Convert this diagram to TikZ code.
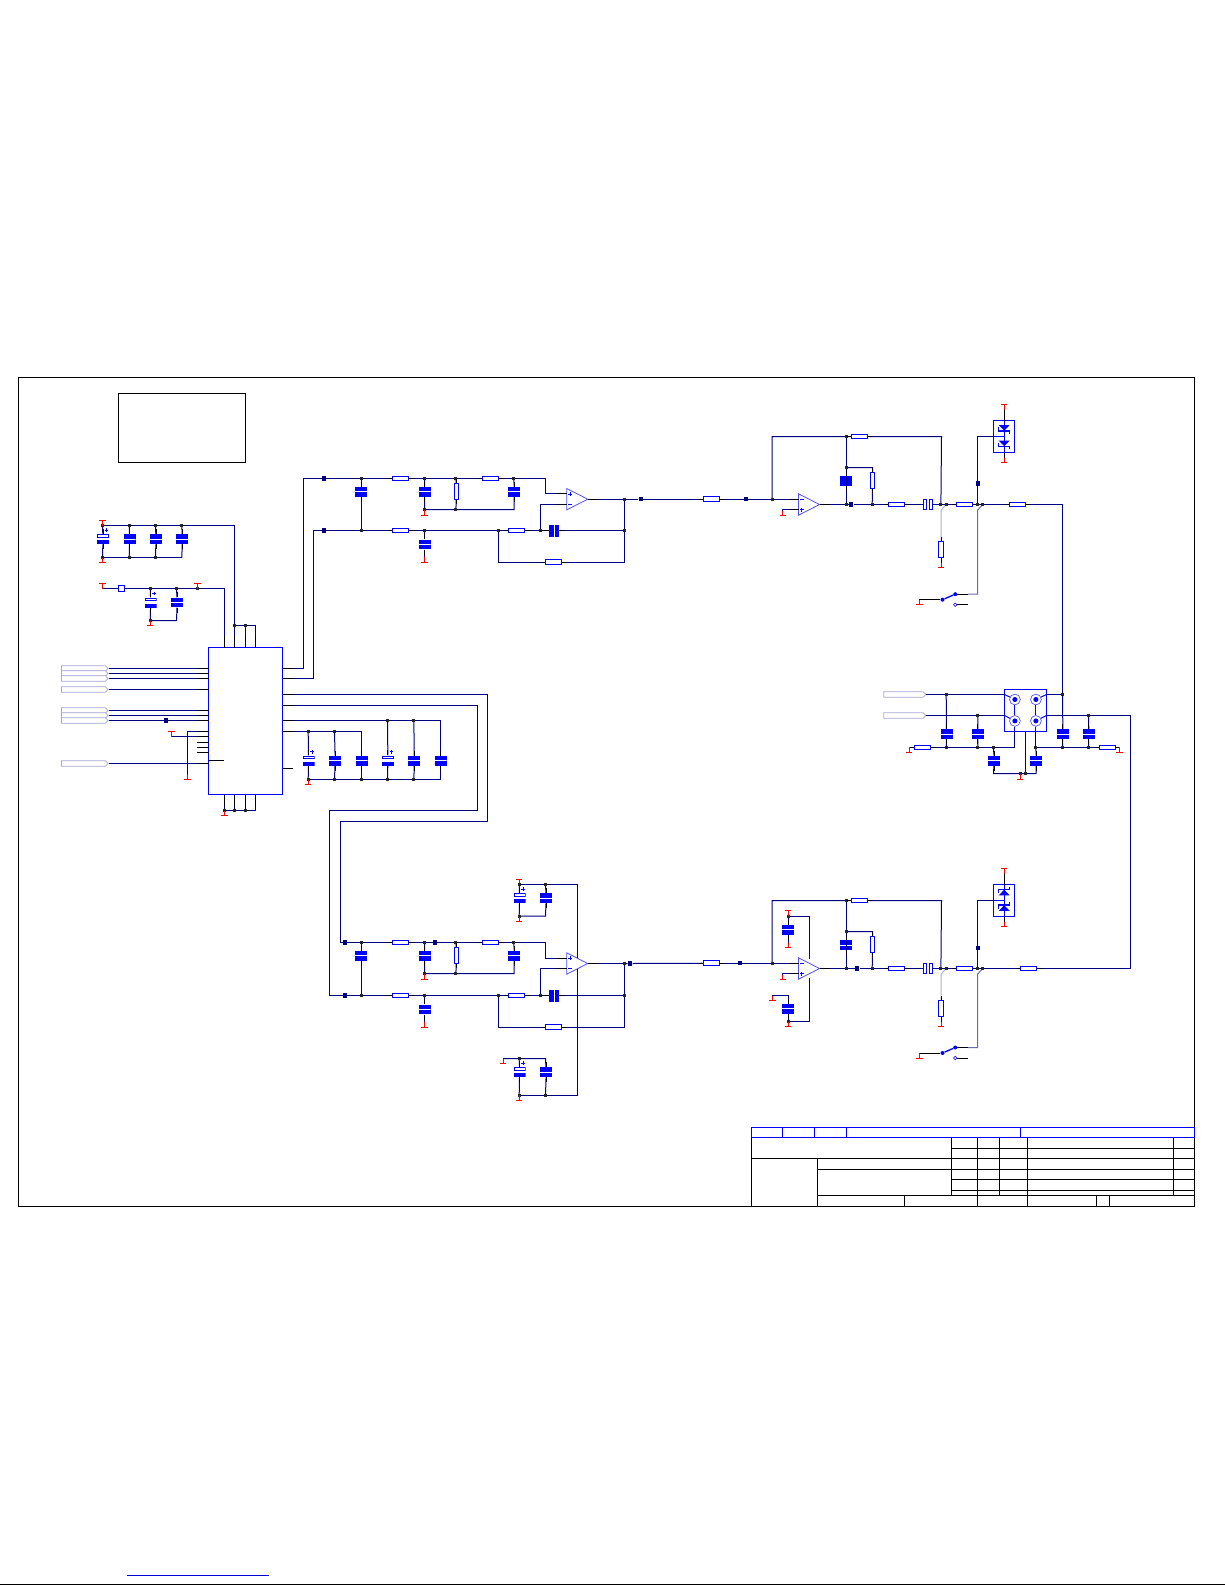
\documentclass[tikz,border=0pt]{standalone}
\usetikzlibrary{shapes.symbols}
\pgfdeclarelayer{pins}
\pgfsetlayers{main,pins}
\definecolor{wirenavy}{RGB}{0,0,130}
\definecolor{partblue}{RGB}{0,0,255}
\definecolor{palewire}{RGB}{175,175,225}
\definecolor{midwire}{RGB}{105,105,175}
\definecolor{portline}{RGB}{165,165,215}
\definecolor{opline}{RGB}{80,80,255}
\tikzset{
 wire/.style={draw=wirenavy,line width=.75pt},
 pinline/.style={draw=black,line width=.75pt},
 frame/.style={draw=black,line width=.8pt},
 part/.style={draw=partblue,line width=.75pt},
 redline/.style={draw=red,line width=.75pt},
 resbox/.style={draw=partblue,line width=.75pt,fill=white,inner sep=0pt,minimum width=12pt,minimum height=3.7pt},
 resvbox/.style={draw=partblue,line width=.75pt,fill=white,inner sep=0pt,minimum width=3.7pt,minimum height=12pt},
 fbox/.style={draw=partblue,line width=.75pt,fill=white,inner sep=0pt,minimum width=4.6pt,minimum height=4pt},
 capv/.style={fill=partblue,inner sep=0pt,minimum width=9pt,minimum height=7.4pt,
   path picture={\fill[white] ([yshift=-.38pt]path picture bounding box.west) rectangle ([yshift=.38pt]path picture bounding box.east);}},
 capsolid/.style={fill=partblue,inner sep=0pt,minimum width=9pt,minimum height=7.5pt},
 caph/.style={fill=partblue,inner sep=0pt,minimum width=7.5pt,minimum height=9pt,
   path picture={\fill[white] ([xshift=-.38pt]path picture bounding box.north) rectangle ([xshift=.38pt]path picture bounding box.south);}},
 capp/.style={inner sep=0pt,minimum width=9pt,minimum height=7.5pt,
   path picture={
     \fill[partblue] (path picture bounding box.north west) rectangle ([yshift=-2.75pt]path picture bounding box.north east);
     \fill[white] ([xshift=.75pt,yshift=-.75pt]path picture bounding box.north west) rectangle ([xshift=-.75pt,yshift=-2pt]path picture bounding box.north east);
     \fill[partblue] (path picture bounding box.south west) rectangle ([yshift=3pt]path picture bounding box.south east);}},
 netsq/.style={fill=wirenavy,inner sep=0pt,minimum size=3.4pt},
 portbox/.style={signal,signal to=east,signal from=nowhere,draw=portline,line width=.6pt,fill=white,
   inner sep=0pt,minimum width=35pt,minimum height=4pt},
 chip/.style={draw=partblue,line width=.8pt,fill=white,inner sep=0pt,outer sep=0pt},
 jackring/.style={circle,draw=opline,line width=.4pt,fill=white,inner sep=0pt,minimum size=8pt},
 jackcore/.style={circle,fill=partblue,inner sep=0pt,minimum size=3.8pt},
}
\newcommand\jn[3]{\coordinate (#1) at (#2,#3);\begin{pgfonlayer}{pins}\fill[black!85] (#1) +(-1.5,-1.5) rectangle +(1.5,1.5);\end{pgfonlayer}}
\newcommand\sq[3]{\begin{pgfonlayer}{pins}\node[netsq] (#1) at (#2,#3) {};\end{pgfonlayer}}
\newcommand\resh[3]{\node[resbox] (#1) at (#2,#3) {};\begin{pgfonlayer}{pins}\draw[pinline] (#1.west) -- +(-4,0) (#1.east) -- +(4,0);\end{pgfonlayer}}
\newcommand\resv[3]{\node[resvbox] (#1) at (#2,#3) {};\begin{pgfonlayer}{pins}\draw[pinline] (#1.north) -- +(0,-4) (#1.south) -- +(0,4);\end{pgfonlayer}}
\newcommand\cstub[1]{\begin{pgfonlayer}{pins}\draw[pinline] (#1.north) -- +(0,-5) (#1.south) -- +(0,5);\end{pgfonlayer}}
\newcommand\capn[3]{\node[capv] (#1) at (#2,#3) {};\cstub{#1}}
\newcommand\capsol[3]{\node[capsolid] (#1) at (#2,#3) {};\cstub{#1}}
\newcommand\pcap[3]{\node[capp] (#1) at (#2,#3) {};\cstub{#1}
  \draw[part,line width=.6pt] (#1.north east) ++(-4.6,-3.7) -- +(3.6,0) ++(1.8,-1.8) -- +(0,3.6);}
\newcommand\capx[3]{\node[caph] (#1) at (#2,#3) {};\begin{pgfonlayer}{pins}\draw[pinline] (#1.west) -- +(-5,0) (#1.east) -- +(5,0);\end{pgfonlayer}}
\newcommand\gnd[4]{\coordinate (#1) at (#2,#3);\begin{pgfonlayer}{pins}\draw[redline] (#2-3.2,#3) -- (#2+3.2,#3) (#2,#3) -- (#2,{#3+(#4)*5});\end{pgfonlayer}}
% name, base x, centre y, sign of the + input
\newcommand\opamp[4]{\coordinate (#1p) at (#2,{#3+(#4)*5.3});\coordinate (#1m) at (#2,{#3-(#4)*5.3});\coordinate (#1o) at (#2+21,#3);
  \draw[draw=opline,line width=.6pt,fill=white] (#2,#3-10.7) -- (#1o) -- (#2,#3+10.7) -- cycle;
  \draw[part,line width=.6pt] (#2+1.5,{#3+(#4)*5.3}) -- +(3.6,0) (#2+3.3,{#3+(#4)*5.3-1.8}) -- +(0,3.6) (#2+1.5,{#3-(#4)*5.3}) -- +(3.6,0);
  \begin{pgfonlayer}{pins}\draw[pinline] (#1p) -- +(-10,0) (#1m) -- +(-10,0) (#1o) -- +(10,0);\end{pgfonlayer}}
% prefix, y of upper rail, y of lower rail, opamp y
\newcommand\filter[4]{%
 \jn{#1a}{361}{#2}\jn{#1b}{424.3}{#2}\jn{#1c}{455.7}{#2}\jn{#1d}{513.7}{#2}
 \resh{#1r1}{400.3}{#2}\resh{#1r2}{490.3}{#2}\coordinate (#1t) at (545.5,#2);
 \jn{#1e}{361}{#3}\jn{#1f}{424.3}{#3}\jn{#1g}{498}{#3}\jn{#1h}{540}{#3}\jn{#1i}{624.3}{#3}\jn{#1k}{624.3}{#4}
 \resh{#1r3}{400.3}{#3}\resh{#1r4}{516.3}{#3}\capx{#1cf}{554}{#3}
 \capn{#1c1}{361}{#2+13.2}\capn{#1c2}{424.3}{#2+13.2}\capn{#1c3}{514}{#2+13.2}\resv{#1rv}{456.3}{#2+13}
 \jn{#1u}{424.3}{#2+31}\jn{#1v}{455.7}{#2+31}\coordinate (#1w) at (514,#2+31);\gnd{#1g1}{424.3}{#2+36.7}{-1}
 \capn{#1c4}{424.3}{#3+14}\gnd{#1g2}{424.3}{#3+31.7}{-1}
 \resh{#1r5}{553.3}{#3+31.5}\coordinate (#1fa) at (498,#3+31.5);\coordinate (#1fb) at (624.3,#3+31.5);
 \opamp{#1op}{566.5}{#4}{-1}
 \draw[wire] (#1a) -- (#1r1) -- (#1b) -- (#1c) -- (#1r2) -- (#1d) -- (#1t) |- (#1opp);
 \draw[wire] (#1e) -- (#1r3) -- (#1f) -- (#1g) -- (#1r4) -- (#1h) -- (#1cf) -- (#1i) -- (#1k);
 \draw[wire] (#1h) |- (#1opm);
 \draw[wire] (#1opo) -- (#1k);
 \draw[wire] (#1a) -- (#1c1) -- (#1e);
 \draw[wire] (#1b) -- (#1c2) -- (#1u) -- (#1v) -- (#1w) -- (#1c3) -- (#1d);
 \draw[wire] (#1c) -- (#1rv) -- (#1v);
 \draw[wire] (#1f) -- (#1c4) -- (#1g2);
 \draw[wire] (#1u) -- (#1g1);
 \draw[wire] (#1g) -- (#1fa) -- (#1r5) -- (#1fb) -- (#1i);
}
% prefix, feedback y, output y, last resistor x, input square x, output square x, R drop, switch drop, cap macro
\newcommand\outstage[9]{%
 \resh{#1ri}{711}{#3-5.3}\sq{#1si}{#5}{#3-5.3}\sq{#1so}{#6}{#3}
 \opamp{#1op}{798.3}{#3}{1}
 \jn{#1a}{772}{#3-5.3}\coordinate (#1b) at (772,#2);\jn{#1c}{846}{#2}\resh{#1rf}{859.3}{#2}\coordinate (#1d) at (941.3,#2);
 \jn{#1e}{846}{#2+31}\coordinate (#1f) at (872.3,#2+31);#9{#1cc}{846}{#2+44.7}\resv{#1rv}{872.3}{#2+44}
 \jn{#1h}{846}{#3}\jn{#1i}{872}{#3}\resh{#1r1}{896.3}{#3}
 \node[fill=white,inner sep=0pt,minimum width=7pt,minimum height=7pt] (#1cs) at (928,#3) {};
 \begin{pgfonlayer}{pins}\draw[part] (923.3,#3-5) rectangle (926.7,#3+5) (928.8,#3-5) rectangle (932.6,#3+5);\end{pgfonlayer}
 \jn{#1j}{940.7}{#3}\jn{#1k}{946}{#3}\resh{#1r2}{964.3}{#3}\jn{#1l}{977.3}{#3}\jn{#1n}{982.7}{#3}\resh{#1r3}{#4}{#3}
 \coordinate (#1g1d) at (941,#3+5.6);\resv{#1rd}{941}{#3+#7}
 \coordinate (#1g2d) at (977.3,#3+5.6);\coordinate (#1sw) at (977.3,#3+#8);\coordinate (#1st) at (967.3,#3+#8);
 \gnd{#1g1}{941}{#3+#7+18}{-1}
 \draw[wire] (#1a) -- (#1ri) (#1ri) -- (#1si) -- (#1a) -- (#1opm);
 \draw[wire] (#1a) -- (#1b) -- (#1c) -- (#1rf) -- (#1d) -- (#1j);
 \draw[wire] (#1c) -- (#1h);
 \draw[wire] (#1c) -- (#1cc) -- (#1h);
 \draw[wire] (#1e) -- (#1f) -- (#1rv) -- (#1i);
 \draw[wire] (#1opo) -- (#1h) -- (#1so) -- (#1i) -- (#1r1) -- (#1cs) -- (#1j) -- (#1k) -- (#1r2) -- (#1l) -- (#1n) -- (#1r3);
 \draw[draw=palewire,line width=.75pt] (#1k) -- (#1g1d) -- (#1rd);
 \draw[wire] (#1rd) -- (#1g1);
 \draw[draw=midwire,line width=.75pt] (#1n) -- (#1g2d) -- (#1sw) -- (#1st);
 \node[circle,fill=partblue,inner sep=0pt,minimum size=3pt] (#1s1) at (955,#3+#8) {};
 \node[circle,fill=partblue,inner sep=0pt,minimum size=3pt] (#1s2) at (942.3,#3+#8+5.5) {};
 \node[circle,draw=partblue,line width=.4pt,fill=white,inner sep=0pt,minimum size=2.6pt] (#1s3) at (955,#3+#8+10.5) {};
 \draw[draw=partblue,line width=1pt] (#1s1) -- (#1s2);
 \draw[pinline] (#1s1) -- (#1st);
 \coordinate (#1s3e) at (967.3,#3+#8+10.5);\draw[pinline] (#1s3) -- (#1s3e);
 \gnd{#1g2}{919.3}{#3+#8+10.5}{-1}
 \draw[pinline] (#1s2) -| (#1g2);
}
% centre x, middle y, sign: +1 for diodes whose triangle points up
\newcommand\tvsdiode[3]{\fill[partblue] (#1-5.5,{#2+(#3)*3.2}) -- (#1+5.5,{#2+(#3)*3.2}) -- (#1,{#2-(#3)*2.5}) -- cycle;
  \draw[draw=partblue,line width=1pt] (#1-5.5,{#2+(#3)*1}) -- (#1-5.5,{#2-(#3)*2.8}) -- (#1+5.5,{#2-(#3)*2.8}) -- (#1+5.5,{#2-(#3)*5.5});}
\newcommand\tvs[4]{\node[chip,fill=white,minimum width=15.75pt,minimum height=24pt] (#1) at (#2,#3) {};
  \draw[part] (#2,#3-16) -- (#2,#3+16) (#2-10.5,#3) -- (#2,#3);
  \tvsdiode{#2}{#3-8.3}{#4}\tvsdiode{#2}{#3+7.2}{#4}
  \gnd{#1t}{#2}{#3-32}{1}\gnd{#1b}{#2}{#3+26}{-1}
  \draw[pinline] (#1t) -- (#1.north) (#1.south) -- (#1b);}
\newcommand\jack[3]{\node[jackring] (#1) at (#2,#3) {};\node[jackcore] (#1c) at (#2,#3) {};}
\begin{document}
\begin{tikzpicture}[x=.75pt,y=-.75pt,shift={(.2,.2)}]
\useasboundingbox (-.2,-.2) rectangle (1224.8,1584.8);
\fill[white] (-.2,-.2) rectangle (1224.8,1584.8);
% outer sheet and blank note box
\node[frame,fill=white,outer sep=0pt,minimum width=882.2pt,minimum height=622pt,inner sep=0pt,anchor=north west] (sheet) at (18.4,377.3) {};
\node[frame,outer sep=0pt,inner sep=0pt,minimum width=95.5pt,minimum height=51.75pt,anchor=north west] (note) at (118.3,393.3) {};
\coordinate (ba) at (127,1575);\coordinate (bb) at (268.7,1575);\draw[draw=blue!85!black,line width=.75pt] (ba) -- (bb);
\coordinate (ca) at (0,1584);\coordinate (cb) at (1225,1584);\draw[frame] (ca) -- (cb);

% main IC
\node[chip,minimum width=55.5pt,minimum height=110.25pt,anchor=north west] (ic) at (208.3,647.3) {};
\foreach \n/\y in {1/668.3,2/673.3,3/678.3,4/689.3,5/710.3,6/715.3,7/720.3,8/731.3,9/736.3,10/742.3,11/747.3,12/752.3,13/763.3}{
  \coordinate (pl\n) at (208.3,\y);
  \begin{pgfonlayer}{pins}\draw[pinline] (pl\n) -- +(-11.6,0);\end{pgfonlayer}}
\foreach \n/\y in {1/668.3,2/678.3,3/694.3,4/705.7,5/720.3,6/731.3,7/768.3}{
  \coordinate (pr\n) at (282.3,\y);
  \begin{pgfonlayer}{pins}\draw[pinline] (pr\n) -- +(10.4,0);\end{pgfonlayer}}
\foreach \n/\x in {1/224.3,2/234.3,3/245.3,4/255.3}{
  \coordinate (pt\n) at (\x,647.3);\coordinate (pb\n) at (\x,794.3);
  \begin{pgfonlayer}{pins}\draw[pinline] (pt\n) -- +(0,-12) (pb\n) -- +(0,12);\end{pgfonlayer}}
\coordinate (icin) at (224,760.3);\coordinate (icil) at (208.3,760.3);\draw[pinline] (icil) -- (icin);
% ports on the left
\foreach \n/\y/\p in {1/668.3/1,2/673.3/2,3/678.3/3,4/689.3/4,5/710.3/5,6/715.3/6,7/720.3/7,8/763.3/13}{
  \node[portbox] (port\n) at (83.3,\y) {};
  \draw[wire] (port\n.east) -- (pl\p);}
\sq{sq7}{166}{720.3}
\gnd{g8}{187.3}{779.3}{-1}\draw[wire] (pl8) -| (g8);
\gnd{g9}{171.3}{731.3}{1}\draw[wire] (pl9) -| (g9);
% bottom of the IC
\jn{b1}{224.3}{810.3}\jn{b2}{234.3}{810.3}\jn{b3}{245.3}{810.3}\coordinate (b4) at (255.3,810.3);
\gnd{g10}{224.3}{815.3}{-1}
\draw[wire] (b1) -- (b4) (pb1) -- (b1) (pb2) -- (b2) (pb3) -- (b3) (pb4) -- (b4) (b1) -- (g10);
% top of the IC: first decoupling group
\jn{t2}{234.3}{625.3}\jn{t3}{245.3}{625.3}\coordinate (t4) at (255.3,625.3);
\draw[wire] (t2) -- (t4) (pt2) -- (t2) (pt3) -- (t3) (pt4) -- (t4);
\jn{a1}{102.3}{525.3}\jn{a2}{129}{525.3}\jn{a3}{155.3}{525.3}\jn{a4}{181.7}{525.3}\coordinate (a5) at (234.3,525.3);
\jn{a6}{102.3}{557.3}\jn{a7}{129}{557.3}\jn{a8}{155.3}{557.3}\coordinate (a9) at (181.7,557.3);
\pcap{ca1}{102.8}{539}\capn{ca2}{129.4}{539}\capn{ca3}{155.8}{539}\capn{ca4}{182}{539}
\gnd{ga1}{102.3}{520.3}{1}\gnd{ga2}{102.3}{562.3}{-1}
\draw[wire] (a1) -- (a5) -- (t2);
\draw[wire] (a6) -- (a9);
\draw[wire] (a1) -- (ca1) -- (a6) (a2) -- (ca2) -- (a7) (a3) -- (ca3) -- (a8) (a4) -- (ca4) -- (a9);
% second decoupling group
\gnd{gd1}{102.3}{583.3}{1}\coordinate (d0) at (102.3,588.3);
\node[fbox] (fb) at (121,588.3) {};
\jn{d1}{150}{588.3}\jn{d2}{176.3}{588.3}\jn{d3}{197.3}{588.3}\coordinate (d4) at (224.3,588.3);
\gnd{gd2}{197.3}{583.3}{1}
\pcap{cd1}{150.5}{602.3}\capn{cd2}{177}{602.3}
\jn{d5}{150}{620.3}\coordinate (d6) at (176.3,620.3);\gnd{gd3}{150}{625.3}{-1}
\draw[wire] (d0) -- (fb) -- (d1) -- (d2) -- (d3) -- (d4) -- (pt1);
\draw[wire] (d1) -- (cd1) -- (d5) -- (d6) -- (cd2) -- (d2);
% reference caps right of the IC
\jn{e1}{308}{731.3}\jn{e2}{334.3}{731.3}\coordinate (e3) at (361.3,731.3);
\jn{e4}{387.3}{720.3}\jn{e5}{413.7}{720.3}\coordinate (e6) at (440.3,720.3);
\pcap{ce1}{308.3}{760.5}\capn{ce2}{335}{760.5}\capn{ce3}{361.3}{760.5}\pcap{ce4}{387.7}{760.5}\capn{ce5}{414}{760.5}\capn{ce6}{440.3}{760.5}
\jn{f1}{308}{779.3}\jn{f2}{334.3}{779.3}\jn{f3}{361.3}{779.3}\jn{f4}{387.3}{779.3}\jn{f5}{413.7}{779.3}\coordinate (f6) at (440.3,779.3);
\gnd{ge}{308}{784.3}{-1}
\draw[wire] (pr6) -- (e1) -- (e2) -- (e3) -- (ce3) -- (f3);
\draw[wire] (pr5) -- (e4) -- (e5) -- (e6) -- (ce6) -- (f6);
\draw[wire] (f1) -- (f6);
\draw[wire] (e1) -- (ce1) -- (f1) (e2) -- (ce2) -- (f2) (e4) -- (ce4) -- (f4) (e5) -- (ce5) -- (f5);

% upper filter
\filter{u}{478.3}{530.3}{499}
\sq{us1}{324}{478.3}\sq{us2}{324}{530.3}\sq{us3}{640.7}{499}
\coordinate (ul1) at (303.3,478.3);\coordinate (ul2) at (313.3,530.3);
\draw[wire] (pr1) -| (ul1) -- (ua);
\draw[wire] (pr2) -| (ul2) -- (ue);
% lower filter
\filter{l}{942.3}{995.3}{963.3}
\sq{ls1}{345}{942.3}\sq{ls2}{345}{995.3}\sq{ls3}{435}{942.3}\sq{ls4}{630}{963.3}
\coordinate (lx1) at (487.3,821.3);\coordinate (lx2) at (340.3,821.3);\coordinate (lx3) at (340.3,942.3);
\coordinate (ly1) at (477.3,810.3);\coordinate (ly2) at (329.3,810.3);\coordinate (ly3) at (329.3,995.3);
\draw[wire] (pr3) -| (lx1) -- (lx2) -- (lx3) -- (la);
\draw[wire] (pr4) -| (ly1) -- (ly2) -- (ly3) -- (le);
% supplies of the lower filter opamp
\gnd{sg1}{519}{879.3}{1}\jn{s1}{519}{884}\jn{s2}{545.3}{884}\coordinate (s3) at (577.3,884);\coordinate (s4) at (577.3,958);
\pcap{cs1}{519.3}{898}\capn{cs2}{546}{898}\jn{s5}{519}{916}\coordinate (s6) at (545.3,916);\gnd{sg2}{519}{921.3}{-1}
\draw[wire] (s1) -- (s2) -- (s3) -- (s4);
\draw[wire] (s1) -- (cs1) -- (s5) -- (s6) -- (cs2) -- (s2);
\coordinate (s7) at (577.3,968.5);\jn{s8}{545.3}{1095.3}\jn{s9}{519}{1095.3}\coordinate (s10) at (577.3,1095.3);
\pcap{cs3}{519.3}{1072}\capn{cs4}{546}{1072}\gnd{sg3}{519}{1100}{-1}
\coordinate (s11) at (545.3,1058.3);\jn{s12}{519}{1058.3}\coordinate (s13) at (503,1058.3);\gnd{sg4}{503}{1063.3}{-1}
\draw[wire] (s7) -- (s10) -- (s9);
\draw[wire] (s13) -- (s11) -- (cs4) -- (s8) (s12) -- (cs3) -- (s9);

% output stages
\outstage{a}{436.3}{504.3}{1017.3}{745.7}{851}{45}{89.7}{\capsol}
\outstage{b}{900.3}{968.3}{1028.3}{740}{857}{40}{79}{\capn}
\draw[wire] (uk) -- (us3) -- (ari);
\draw[wire] (lk) -- (ls4) -- (bri);
\sq{as2}{977.7}{483.3}\sq{bs2}{977.7}{948}
\tvs{atv}{1004}{436.3}{-1}\tvs{btv}{1004}{900.3}{1}
\coordinate (aup) at (977.3,436.3);\coordinate (bup) at (977.3,900.3);
\draw[wire] (al) -- (aup) -- (atv.west |- aup);
\draw[wire] (bl) -- (bup) -- (btv.west |- bup);
% supplies of the lower output opamp
\jn{o1}{788}{916}\gnd{og1}{788}{910.7}{1}\capn{co1}{788}{929.5}\gnd{og2}{788}{947.3}{-1}
\coordinate (o2) at (809.3,916);\coordinate (o3) at (809.3,958.5);
\draw[wire] (o1) -- (co1) -- (og2);\draw[wire] (o1) -- (o2) -- (o3);
\gnd{og3}{772.3}{1000.3}{-1}\coordinate (o4) at (788,995.3);\coordinate (o5) at (772.3,995.3);
\capn{co2}{788}{1008.5}\jn{o6}{788}{1021.3}\gnd{og4}{788}{1026.3}{-1}
\coordinate (o7) at (809.3,1021.3);\coordinate (o8) at (809.3,978.2);
\draw[wire] (og3) -- (o5) -- (o4) -- (co2) -- (o6) -- (og4);\draw[wire] (o6) -- (o7) -- (o8);
\gnd{aog}{782.7}{515.3}{-1}\draw[wire] (aopp) -| (aog);
\gnd{bog}{782.7}{979.3}{-1}\draw[wire] (bopp) -| (bog);

% output connector
\node[chip,minimum width=31.5pt,minimum height=31.8pt] (conn) at (1025.3,710.5) {};
\jack{j1}{1014.7}{699.3}\jack{j2}{1035.7}{699.3}\jack{j3}{1014.7}{720.7}\jack{j4}{1035.7}{720.7}
\draw[part] (j1) -- (j3) (j2) -- (j4);
\node[portbox,minimum width=31.5pt] (po1) at (903.3,694.3) {};
\node[portbox,minimum width=31.5pt] (po2) at (903.3,715.3) {};
\jn{q1}{946}{694.3}\jn{q2}{977.7}{715.3}\jn{q3}{1062.3}{694.3}\jn{q4}{1088.3}{715.3}
\coordinate (q5) at (1004.3,694.3);\coordinate (q6) at (1004.3,715.3);\coordinate (q7) at (1046.3,694.3);\coordinate (q8) at (1046.3,715.3);
\draw[wire] (po1.east) -- (q1) -- (q5);
\draw[wire] (po2.east) -- (q2) -- (q6);
\draw[wire] (q7) -- (q3);
\draw[wire] (q8) -- (q4);
\draw[part] (q5) -- (j1) (q6) -- (j3) (q7) -- (j2) (q8) -- (j4);
\coordinate (q9) at (1130,715.3);\coordinate (q10) at (1130,968.3);\coordinate (q11) at (1062.3,504.3);
\draw[wire] (q4) -- (q9) -- (q10) -- (br3);
\draw[wire] (ar3) -- (q11) -- (q3);
\capn{cc1}{946.3}{734}\capn{cc2}{977.7}{734}\capn{cc3}{1062.7}{734}\capn{cc4}{1088.7}{734}
\jn{r1}{946}{747.3}\jn{r2}{977.7}{747.3}\jn{r3}{993.3}{747.3}\coordinate (r4) at (1014.7,747.3);
\jn{r5}{1035.7}{747.3}\jn{r6}{1062.3}{747.3}\jn{r7}{1088.3}{747.3}
\resh{rl}{922.3}{747.3}\resh{rr}{1107.3}{747.3}
\coordinate (r8) at (909,747.3);\coordinate (r9) at (1119.3,747.3);
\gnd{gl}{909}{752}{-1}\gnd{gr}{1119.3}{752}{-1}
\coordinate (r10) at (1014.7,731.7);\coordinate (r11) at (1035.7,731.7);
\draw[wire] (r8) -- (rl) -- (r1) -- (r2) -- (r3) -- (r4) -- (r10);
\draw[wire] (r11) -- (r5) -- (r6) -- (r7) -- (rr) -- (r9);
\draw[part] (r10) -- (j3) (r11) -- (j4);
\draw[wire] (q1) -- (cc1) -- (r1) (q2) -- (cc2) -- (r2) (q3) -- (cc3) -- (r6) (q4) -- (cc4) -- (r7);
\capn{cc5}{994}{760.5}\capn{cc6}{1036}{760.5}
\coordinate (u1) at (993.3,773.3);\jn{u2}{1020}{773.3}\jn{u3}{1025}{773.3}\coordinate (u4) at (1036,773.3);
\gnd{gu}{1020}{779}{-1}
\draw[wire] (r3) -- (cc5) -- (u1) -- (u4) -- (cc6) -- (r5);
\draw[wire] (u3) -- (conn.south -| u3);
\foreach \n in {j1,j2,j3,j4}{\node[jackring] at (\n) {};\node[jackcore] at (\n) {};}

% title block
\node[draw=partblue,line width=.75pt,outer sep=0pt,inner sep=0pt,minimum width=332.5pt,minimum height=7.5pt,anchor=north west] (trow) at (751.3,1127.3) {};
\draw[part] (782.7,1127.3) -- (782.7,1137.3) (814.7,1127.3) -- (814.7,1137.3) (846.7,1127.3) -- (846.7,1137.3) (1020.7,1127.3) -- (1020.7,1137.3);
\draw[frame] (751.3,1137.3) -- (751.3,1206.7)
  (951.7,1148.3) -- (1194.7,1148.3) (751.3,1158.3) -- (1194.7,1158.3) (817.3,1169.3) -- (1194.7,1169.3)
  (951.7,1179.3) -- (1194.7,1179.3) (951.7,1190.3) -- (1194.7,1190.3) (817.3,1195.3) -- (1194.7,1195.3)
  (951.7,1137.3) -- (951.7,1195.3) (977.3,1137.3) -- (977.3,1206.7) (999.3,1137.3) -- (999.3,1195.3)
  (1027.3,1137.3) -- (1027.3,1206.7) (1173.3,1137.3) -- (1173.3,1195.3) (817.3,1158.3) -- (817.3,1206.7)
  (904.3,1195.3) -- (904.3,1206.7) (1096.3,1195.3) -- (1096.3,1206.7) (1109.3,1195.3) -- (1109.3,1206.7);
\end{tikzpicture}
\end{document}
